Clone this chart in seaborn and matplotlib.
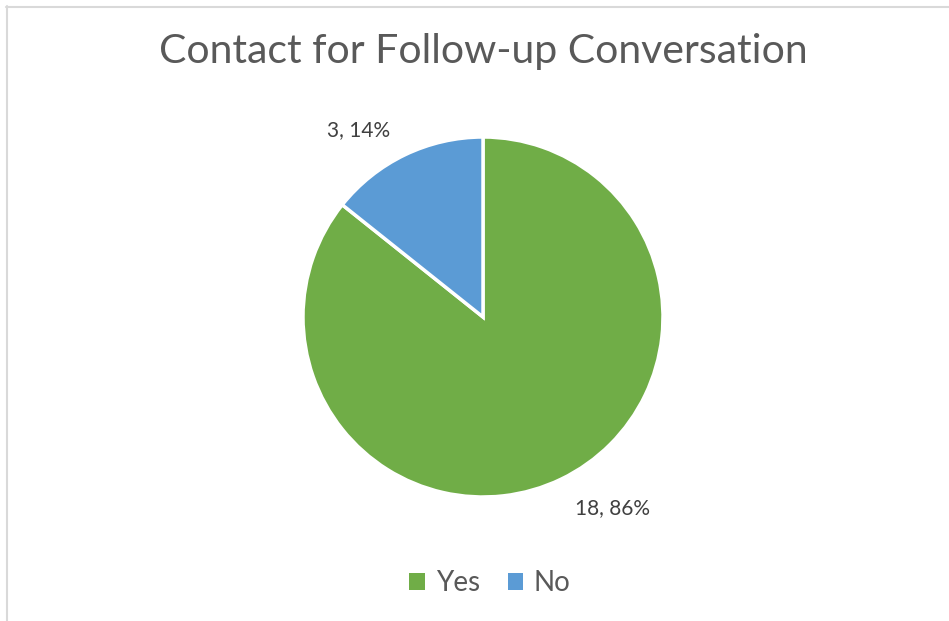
import matplotlib
matplotlib.use("Agg")
import matplotlib.pyplot as plt
from matplotlib.lines import Line2D
from matplotlib.patches import Patch
import seaborn as sns

categories = ["Yes", "No"]
counts = [18, 3]
percents = ["86%", "14%"]
colors = ["#70AD47", "#5B9BD5"]

sns.set_theme(style="white")
plt.rcParams["font.family"] = ["Lato", "DejaVu Sans"]

W, H = 949, 621
fig = plt.figure(figsize=(W / 100, H / 100), dpi=100)
fig.patch.set_facecolor("white")

cx, cy, r = 483, 317, 180
ax = fig.add_axes([(cx - r) / W, (H - cy - r) / H, 2 * r / W, 2 * r / H])
wedges, _ = ax.pie(counts, colors=colors, startangle=90, counterclock=False,
                   radius=1, wedgeprops=dict(edgecolor="white", linewidth=2.5))
ax.set_xlim(-1, 1)
ax.set_ylim(-1, 1)
ax.set_aspect("equal")
ax.axis("off")

label_pos = {"Yes": (0.722, -1.061), "No": (-0.694, 1.039)}
for cat, n, p in zip(categories, counts, percents):
    x, y = label_pos[cat]
    ax.text(x, y, f"{n}, {p}", ha="center", va="center", fontsize=15,
            color="#404040", clip_on=False)

fig.text(483 / W, 1 - 52 / H, "Contact for Follow-up Conversation",
         ha="center", va="center", fontsize=29.5, color="#595959",
         fontweight="normal")

handles = [Patch(facecolor=c, edgecolor="none") for c in colors]
fig.legend(handles, categories, loc="center", bbox_to_anchor=(490 / W, 1 - 583 / H),
           ncol=2, frameon=False, fontsize=20, handlelength=0.55, handleheight=0.55,
           handletextpad=0.4, columnspacing=1.0, labelcolor="#595959")

fig.add_artist(Line2D([6 / W, 1], [1 - 6.5 / H, 1 - 6.5 / H], color="#D9D9D9", lw=1.5,
                      transform=fig.transFigure))
fig.add_artist(Line2D([6.5 / W, 6.5 / W], [0, 1 - 6 / H], color="#D9D9D9", lw=1.5,
                      transform=fig.transFigure))

fig.savefig("out.png", dpi=100, facecolor="white")
